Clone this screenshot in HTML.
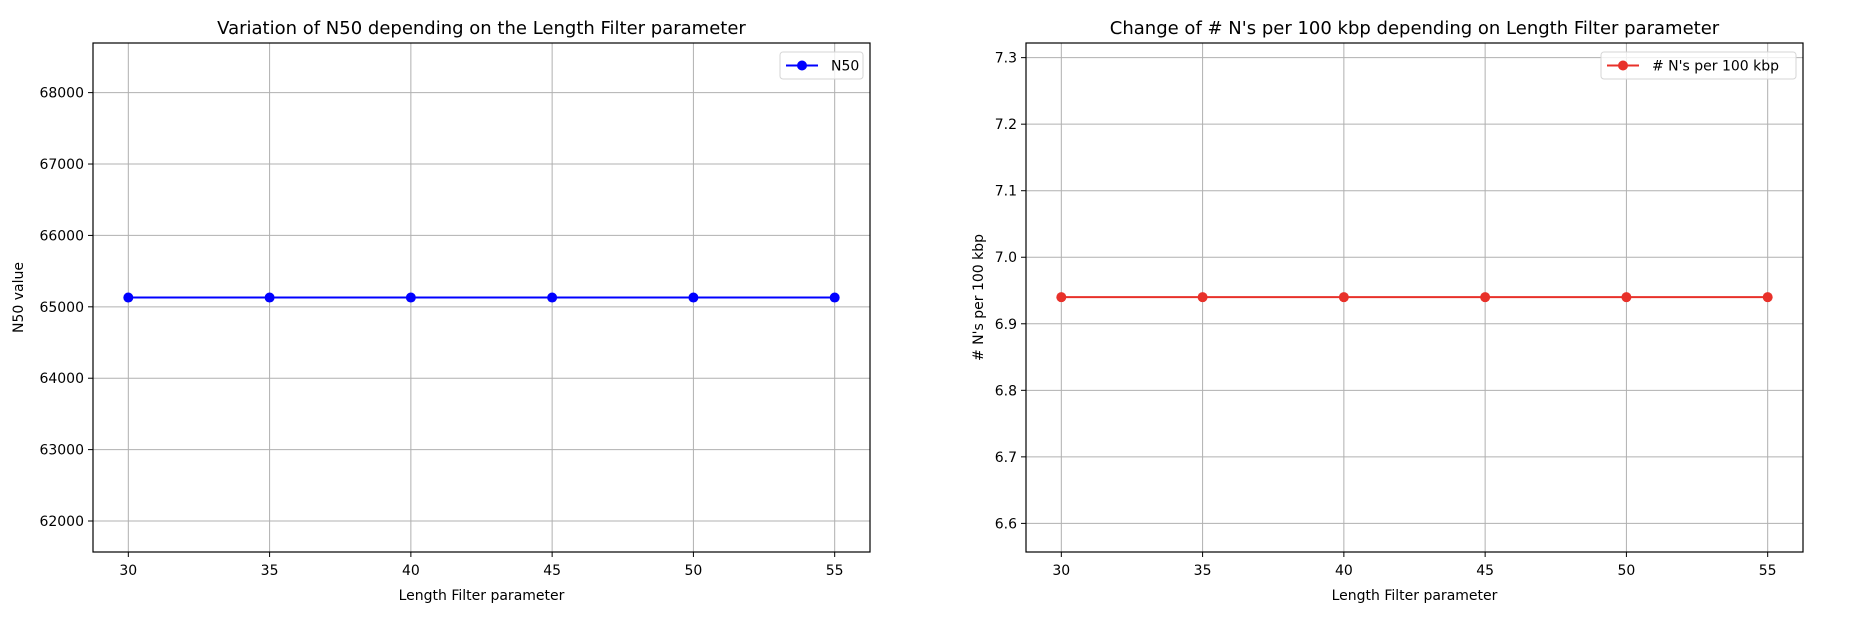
<!DOCTYPE html>
<html><head><meta charset="utf-8">
<style>
html,body{margin:0;padding:0;background:#fff;}
svg{display:block;font-family:"DejaVu Sans","Liberation Sans",sans-serif;}
</style></head>
<body>
<svg id="fig" width="1855" height="627" viewBox="0 0 1855 627" xmlns="http://www.w3.org/2000/svg"></svg>
<script>
const categories = [30, 35, 40, 45, 50, 55];
const n50Values = [65130, 65130, 65130, 65130, 65130, 65130];
const nsValues = [6.94, 6.94, 6.94, 6.94, 6.94, 6.94];
const xTicks = [30, 35, 40, 45, 50, 55];
const n50Ticks = [62000, 63000, 64000, 65000, 66000, 67000, 68000];
const nsTicks = [6.6, 6.7, 6.8, 6.9, 7.0, 7.1, 7.2, 7.3];

const NS = "http://www.w3.org/2000/svg";
const svg = document.getElementById('fig');
function el(tag, attrs, parent) {
  const e = document.createElementNS(NS, tag);
  for (const k in attrs) e.setAttribute(k, attrs[k]);
  (parent || svg).appendChild(e);
  return e;
}

function drawPanel(cfg) {
  const g = el('g', {});
  
  
  const L = cfg.left, R = cfg.right, T = 43, B = 552;
  const xmin = 28.75, xmax = 56.25;
  const sx = v => L + (v - xmin) / (xmax - xmin) * (R - L);
  const sy = v => B - (v - cfg.ymin) / (cfg.ymax - cfg.ymin) * (B - T);

  xTicks.forEach(t => {
    const l = el('line', {x1: sx(t), x2: sx(t), y1: T, y2: B, stroke: '#b0b0b0', 'stroke-width': 1}, g);
    
    
  });
  cfg.yTicks.forEach(t => {
    const l = el('line', {x1: L, x2: R, y1: sy(t), y2: sy(t), stroke: '#b0b0b0', 'stroke-width': 1}, g);
    
    
  });
  xTicks.forEach(t => {
    el('line', {x1: sx(t), x2: sx(t), y1: B, y2: B + 5, stroke: '#000', 'stroke-width': 1}, g);
    const tx = el('text', {x: sx(t), y: 575, 'font-size': 14, 'text-anchor': 'middle', fill: '#000'}, g);
    tx.textContent = t;
    
    
  });
  cfg.yTicks.forEach(t => {
    el('line', {x1: L - 5, x2: L, y1: sy(t), y2: sy(t), stroke: '#000', 'stroke-width': 1}, g);
    const tx = el('text', {x: L - 9, y: sy(t) + 5, 'font-size': 14, 'text-anchor': 'end', fill: '#000'}, g);
    tx.textContent = cfg.fmt(t);
    
    
  });
  const pts = categories.map((c, i) => sx(c) + ',' + sy(cfg.values[i])).join(' ');
  const pl = el('polyline', {points: pts, fill: 'none', stroke: cfg.color, 'stroke-width': 2}, g);
  
  
  categories.forEach((c, i) => {
    const m = el('circle', {cx: sx(c), cy: sy(cfg.values[i]), r: 5, fill: cfg.color}, g);
    
    
  });
  const fr = el('rect', {x: L, y: T, width: R - L, height: B - T, fill: 'none', stroke: '#000', 'stroke-width': 1.2}, g);
  
  
  const ti = el('text', {x: (L + R) / 2, y: 34, 'font-size': 18, 'text-anchor': 'middle', fill: '#000'}, g);
  ti.textContent = cfg.title;
  
  
  const xl = el('text', {x: (L + R) / 2, y: 600, 'font-size': 14, 'text-anchor': 'middle', fill: '#000'}, g);
  xl.textContent = 'Length Filter parameter';
  
  
  const yl = el('text', {x: 0, y: 0, 'font-size': 14, 'text-anchor': 'middle', fill: '#000', transform: 'translate(' + cfg.ylabelX + ',' + ((T + B) / 2) + ') rotate(-90)'}, g);
  yl.textContent = cfg.ylabel;
  
  
  const lg = el('g', {}, g);
  
  
  el('rect', {x: cfg.legX, y: 52, width: R - 7 - cfg.legX, height: 27, rx: 3, fill: '#fff', 'fill-opacity': 0.8, stroke: '#d6d6d6'}, lg);
  el('line', {x1: cfg.legX + 6, x2: cfg.legX + 38, y1: 65.5, y2: 65.5, stroke: cfg.color, 'stroke-width': 2}, lg);
  el('circle', {cx: cfg.legX + 22, cy: 65.5, r: 5, fill: cfg.color}, lg);
  const lt = el('text', {x: cfg.legX + 51, y: 70.5, 'font-size': 14, fill: '#000'}, lg);
  lt.textContent = cfg.legend;
  
  
}

drawPanel({name: 'n50-chart', left: 93, right: 870, ymin: 61566, ymax: 68695,
  values: n50Values, yTicks: n50Ticks, fmt: t => String(t), color: '#0000ff',
  seriesName: 'n50', title: 'Variation of N50 depending on the Length Filter parameter',
  ylabel: 'N50 value', ylabelX: 23, legend: 'N50', legX: 780});
drawPanel({name: 'ns-chart', left: 1026, right: 1803, ymin: 6.557, ymax: 7.322,
  values: nsValues, yTicks: nsTicks, fmt: t => t.toFixed(1), color: '#e8312a',
  seriesName: 'ns-per-100kbp', title: "Change of # N's per 100 kbp depending on Length Filter parameter",
  ylabel: "# N's per 100 kbp", ylabelX: 983, legend: "# N's per 100 kbp", legX: 1601});
</script>
</body></html>
